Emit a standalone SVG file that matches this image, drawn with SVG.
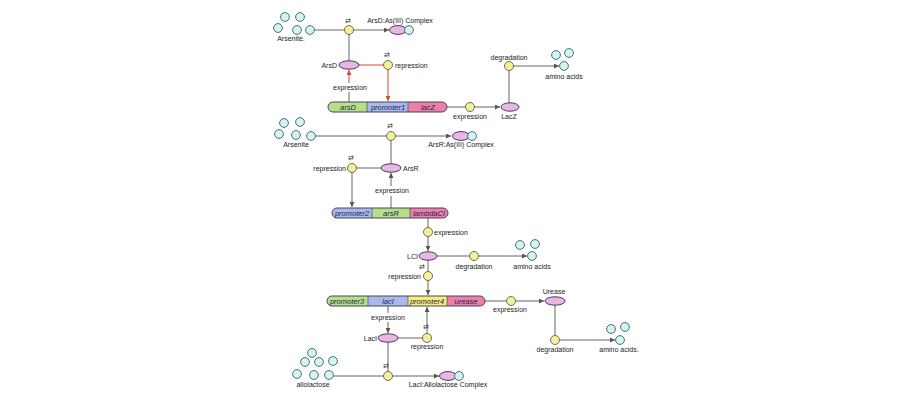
<svg xmlns="http://www.w3.org/2000/svg" width="900" height="400" viewBox="0 0 900 400">
<style>
text{font-family:"Liberation Sans",Arial,sans-serif;font-size:7px;fill:#222}
.m{text-anchor:middle}.e{text-anchor:end}
.g{font-style:italic;font-size:7.5px;fill:#1c1c50;text-anchor:middle}
.ic{font-family:"DejaVu Sans",sans-serif;font-size:7px;fill:#333;text-anchor:middle}
.ln{stroke:#666;stroke-width:1;fill:none}
.rd{stroke:#e0442a;stroke-width:1;fill:none}
.y{fill:#f4ef9c;stroke:#6f6f50;stroke-width:1}
.c{fill:#d9f1f0;stroke:#3a7778;stroke-width:1}
.p{fill:#e3b9e2;stroke:#553568;stroke-width:1}
.bo{fill:none;stroke:#454565;stroke-width:1}
.sg{fill:#b7df88}.sb{fill:#aab9ea}.sp{fill:#ec80a7}.sy{fill:#f3ef78}
.dv{stroke:#454565;stroke-width:0.7}
</style>
<defs>
<marker id="a" viewBox="0 0 6 6" refX="6" refY="3" markerWidth="5" markerHeight="5" orient="auto"><path d="M0,0L6,3L0,6z" fill="#555"/></marker>
<marker id="ar" viewBox="0 0 6 6" refX="6" refY="3" markerWidth="5" markerHeight="5" orient="auto"><path d="M0,0L6,3L0,6z" fill="#e0442a"/></marker>
<clipPath id="b1"><rect x="328" y="102" width="119" height="10" rx="5"/></clipPath>
<clipPath id="b2"><rect x="332" y="208" width="116" height="10" rx="5"/></clipPath>
<clipPath id="b3"><rect x="327" y="296" width="158" height="10" rx="5"/></clipPath>
</defs>

<g id="connectors">
<line class="ln" x1="314" y1="30" x2="345" y2="30"/>
<line class="ln" x1="353" y1="30" x2="389" y2="30" marker-end="url(#a)"/>
<line class="ln" x1="349" y1="34" x2="349" y2="61"/>
<line class="rd" x1="359" y1="65" x2="384" y2="65"/>
<line class="rd" x1="388" y1="69" x2="388" y2="101" marker-end="url(#ar)"/>
<line class="ln" x1="349" y1="102" x2="349" y2="92"/>
<line class="rd" x1="349" y1="83" x2="349" y2="70" marker-end="url(#ar)"/>
<line class="ln" x1="447" y1="107" x2="466" y2="107"/>
<line class="ln" x1="474" y1="107" x2="500" y2="107" marker-end="url(#a)"/>
<line class="ln" x1="509" y1="103" x2="509" y2="70"/>
<line class="ln" x1="513" y1="66" x2="559" y2="66" marker-end="url(#a)"/>

<line class="ln" x1="315" y1="136" x2="387" y2="136"/>
<line class="ln" x1="395" y1="136" x2="451" y2="136" marker-end="url(#a)"/>
<line class="ln" x1="391" y1="140" x2="391" y2="164"/>
<line class="ln" x1="381" y1="168" x2="356" y2="168"/>
<line class="ln" x1="352" y1="172" x2="352" y2="207" marker-end="url(#a)"/>
<line class="ln" x1="391" y1="208" x2="391" y2="196"/>
<line class="ln" x1="391" y1="186" x2="391" y2="173" marker-end="url(#a)"/>

<line class="ln" x1="428" y1="218" x2="428" y2="228"/>
<line class="ln" x1="428" y1="236" x2="428" y2="251" marker-end="url(#a)"/>
<line class="ln" x1="437" y1="256" x2="470" y2="256"/>
<line class="ln" x1="478" y1="256" x2="527" y2="256" marker-end="url(#a)"/>
<line class="ln" x1="428" y1="260" x2="428" y2="272"/>
<line class="ln" x1="428" y1="280" x2="428" y2="295" marker-end="url(#a)"/>

<line class="ln" x1="485" y1="301" x2="507" y2="301"/>
<line class="ln" x1="515" y1="301" x2="544" y2="301" marker-end="url(#a)"/>
<line class="ln" x1="555" y1="305" x2="555" y2="336"/>
<line class="ln" x1="559" y1="340" x2="615" y2="340" marker-end="url(#a)"/>

<line class="ln" x1="388" y1="306" x2="388" y2="313"/>
<line class="ln" x1="388" y1="322" x2="388" y2="333" marker-end="url(#a)"/>
<line class="ln" x1="398" y1="338" x2="423" y2="338"/>
<line class="ln" x1="427" y1="334" x2="427" y2="307" marker-end="url(#a)"/>
<line class="ln" x1="388" y1="342" x2="388" y2="372"/>
<line class="ln" x1="333" y1="376" x2="384" y2="376"/>
<line class="ln" x1="392" y1="376" x2="439" y2="376" marker-end="url(#a)"/>
</g>

<g id="arsenite1">
<circle class="c" cx="285" cy="17" r="4.4"/><circle class="c" cx="300" cy="17" r="4.4"/>
<circle class="c" cx="278" cy="28" r="4.4"/><circle class="c" cx="297" cy="30" r="4.4"/><circle class="c" cx="310" cy="30" r="4.4"/>
<text class="m" x="291" y="41">Arsenite.</text>
</g>
<g id="assoc1"><circle class="y" cx="349" cy="30" r="4.5"/><text class="ic" x="348" y="23">⇄</text></g>
<g id="arsdComplex">
<ellipse class="p" cx="398" cy="30" rx="8.5" ry="4.4"/><circle class="c" cx="409" cy="30" r="4.4"/>
<text class="m" x="400" y="23">ArsD:As(III) Complex</text>
</g>
<g id="ArsD"><ellipse class="p" cx="349" cy="65" rx="10" ry="4.2"/><text class="e" x="337" y="67.5">ArsD</text></g>
<g id="repression1"><circle class="y" cx="388" cy="65" r="4.5"/><text class="ic" x="387" y="57">⇄</text><text x="395" y="67.5">repression</text></g>
<g id="expr1label"><text class="m" x="350" y="90">expression</text></g>
<g id="gene1">
<g clip-path="url(#b1)">
<rect class="sg" x="328" y="102" width="39" height="10"/><rect class="sb" x="367" y="102" width="41" height="10"/><rect class="sp" x="408" y="102" width="39" height="10"/>
</g>
<line class="dv" x1="367" y1="102" x2="367" y2="112"/><line class="dv" x1="408" y1="102" x2="408" y2="112"/>
<rect class="bo" x="328" y="102" width="119" height="10" rx="5"/>
<text class="g" x="348" y="109.5">arsD</text><text class="g" x="388" y="109.5">promoter1</text><text class="g" x="428" y="109.5">lacZ</text>
</g>
<g id="expression2"><circle class="y" cx="470" cy="107" r="4.5"/><text class="m" x="470" y="119">expression</text></g>
<g id="LacZ"><ellipse class="p" cx="510" cy="107" rx="9" ry="4.2"/><text class="m" x="509" y="119">LacZ</text></g>
<g id="degradation1"><circle class="y" cx="509" cy="66" r="4.5"/><text class="m" x="509" y="60">degradation</text></g>
<g id="amino1">
<circle class="c" cx="556" cy="55" r="4.4"/><circle class="c" cx="569" cy="53" r="4.4"/><circle class="c" cx="564" cy="66" r="4.4"/>
<text class="m" x="564" y="79">amino acids</text>
</g>

<g id="arsenite2">
<circle class="c" cx="284" cy="123" r="4.4"/><circle class="c" cx="300" cy="122" r="4.4"/>
<circle class="c" cx="279" cy="134" r="4.4"/><circle class="c" cx="296" cy="135" r="4.4"/><circle class="c" cx="311" cy="136" r="4.4"/>
<text class="m" x="296" y="147">Arsenite</text>
</g>
<g id="assoc2"><circle class="y" cx="391" cy="136" r="4.5"/><text class="ic" x="390" y="128">⇄</text></g>
<g id="arsrComplex">
<ellipse class="p" cx="461" cy="136" rx="8.5" ry="4.4"/><circle class="c" cx="472" cy="136" r="4.4"/>
<text class="m" x="461" y="147">ArsR:As(III) Complex</text>
</g>
<g id="ArsR"><ellipse class="p" cx="391" cy="168" rx="10" ry="4.2"/><text x="403" y="171">ArsR</text></g>
<g id="repression2"><circle class="y" cx="352" cy="168" r="4.5"/><text class="ic" x="351" y="160">⇄</text><text class="e" x="346" y="170.5">repression</text></g>
<g id="expr3label"><text class="m" x="392" y="193">expression</text></g>
<g id="gene2">
<g clip-path="url(#b2)">
<rect class="sb" x="332" y="208" width="40" height="10"/><rect class="sg" x="372" y="208" width="38" height="10"/><rect class="sp" x="410" y="208" width="38" height="10"/>
</g>
<line class="dv" x1="372" y1="208" x2="372" y2="218"/><line class="dv" x1="410" y1="208" x2="410" y2="218"/>
<rect class="bo" x="332" y="208" width="116" height="10" rx="5"/>
<text class="g" x="352" y="215.5">promoter2</text><text class="g" x="391" y="215.5">arsR</text><text class="g" x="429" y="215.5">lambdaCI</text>
</g>
<g id="expression4"><circle class="y" cx="428" cy="232" r="4.5"/><text x="434" y="234.5">expression</text></g>
<g id="LCI"><ellipse class="p" cx="428" cy="256" rx="9" ry="4.2"/><text class="e" x="418" y="258.5">LCI</text></g>
<g id="degradation2"><circle class="y" cx="474" cy="256" r="4.5"/><text class="m" x="474" y="269">degradation</text></g>
<g id="amino2">
<circle class="c" cx="520" cy="245" r="4.4"/><circle class="c" cx="535" cy="244" r="4.4"/><circle class="c" cx="532" cy="256" r="4.4"/>
<text class="m" x="532" y="269">amino  acids</text>
</g>
<g id="repression3"><circle class="y" cx="428" cy="276" r="4.5"/><text class="ic" x="422" y="269">⇄</text><text class="e" x="421" y="278.5">repression</text></g>
<g id="gene3">
<g clip-path="url(#b3)">
<rect class="sg" x="327" y="296" width="41" height="10"/><rect class="sb" x="368" y="296" width="40" height="10"/><rect class="sy" x="408" y="296" width="39" height="10"/><rect class="sp" x="447" y="296" width="38" height="10"/>
</g>
<line class="dv" x1="368" y1="296" x2="368" y2="306"/><line class="dv" x1="408" y1="296" x2="408" y2="306"/><line class="dv" x1="447" y1="296" x2="447" y2="306"/>
<rect class="bo" x="327" y="296" width="158" height="10" rx="5"/>
<text class="g" x="347" y="303.5">promoter3</text><text class="g" x="388" y="303.5">lacI</text><text class="g" x="427" y="303.5">promoter4</text><text class="g" x="466" y="303.5">urease</text>
</g>
<g id="expression5"><circle class="y" cx="511" cy="301" r="4.5"/><text class="m" x="510" y="312">expression</text></g>
<g id="Urease"><ellipse class="p" cx="555" cy="301" rx="10" ry="4.2"/><text class="m" x="554" y="294">Urease</text></g>
<g id="degradation3"><circle class="y" cx="555" cy="340" r="4.5"/><text class="m" x="555" y="352">degradation</text></g>
<g id="amino3">
<circle class="c" cx="611" cy="329" r="4.4"/><circle class="c" cx="625" cy="327" r="4.4"/><circle class="c" cx="620" cy="340" r="4.4"/>
<text class="m" x="619" y="352">amino acids.</text>
</g>
<g id="expr6label"><text class="m" x="388" y="320">expression</text></g>
<g id="LacI"><ellipse class="p" cx="388" cy="338" rx="10" ry="4.2"/><text class="e" x="377" y="340.5">LacI</text></g>
<g id="repression4"><circle class="y" cx="427" cy="338" r="4.5"/><text class="ic" x="426" y="329">⇄</text><text class="m" x="427" y="349">repression</text></g>
<g id="allolactose">
<circle class="c" cx="312" cy="353" r="4.4"/><circle class="c" cx="305" cy="362" r="4.4"/><circle class="c" cx="319" cy="362" r="4.4"/><circle class="c" cx="333" cy="361" r="4.4"/>
<circle class="c" cx="297" cy="374" r="4.4"/><circle class="c" cx="314" cy="375" r="4.4"/><circle class="c" cx="329" cy="375" r="4.4"/>
<text class="m" x="313" y="387">allolactose</text>
</g>
<g id="assoc3"><circle class="y" cx="388" cy="376" r="4.5"/><text class="ic" x="386" y="368">⇄</text></g>
<g id="laciComplex">
<ellipse class="p" cx="448" cy="376" rx="8.5" ry="4.4"/><circle class="c" cx="459" cy="376" r="4.4"/>
<text class="m" x="448" y="387">LacI:Allolactose Complex</text>
</g>
</svg>
